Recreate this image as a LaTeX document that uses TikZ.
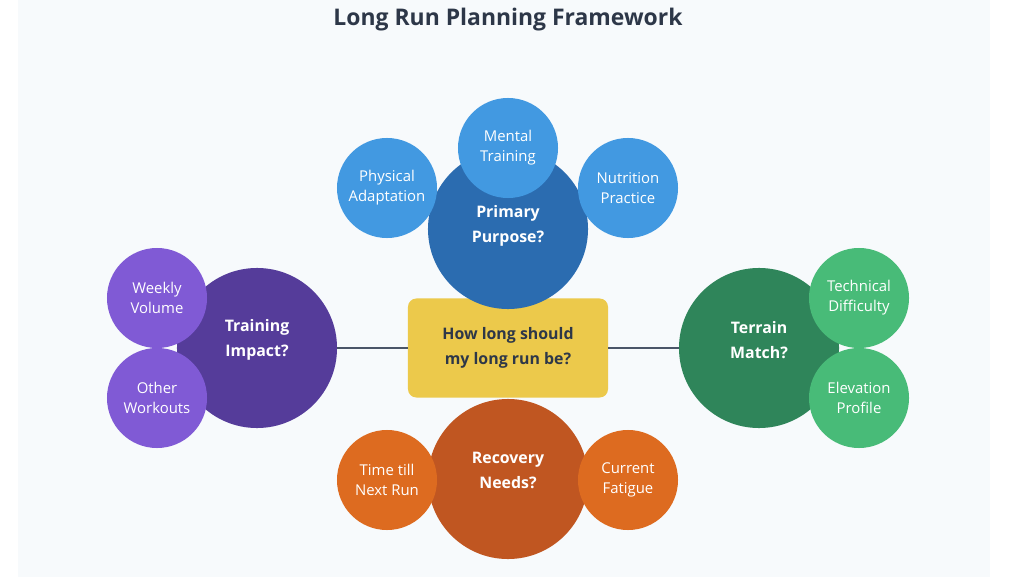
\documentclass[tikz,border=0pt]{standalone}
\usepackage{fontspec}
\setmainfont{Open Sans}
\usetikzlibrary{positioning}

\definecolor{panel}{HTML}{F7FAFC}
\definecolor{titlegray}{HTML}{2D3748}
\definecolor{linkgray}{HTML}{4A5568}
\definecolor{qyellow}{HTML}{ECC94B}
\definecolor{blueDark}{HTML}{2B6CB0}
\definecolor{blueLight}{HTML}{4299E1}
\definecolor{purpleDark}{HTML}{553C9A}
\definecolor{purpleLight}{HTML}{805AD5}
\definecolor{greenDark}{HTML}{2F855A}
\definecolor{greenLight}{HTML}{48BB78}
\definecolor{orangeDark}{HTML}{C05621}
\definecolor{orangeLight}{HTML}{DD6B20}

\begin{document}
\begin{tikzpicture}[x=0.025cm,y=-0.025cm,
  bigcirc/.style={circle,inner sep=0pt,minimum size=4cm,text=white,align=center,
    font=\bfseries\fontsize{11.3}{17.7}\selectfont},
  smallcirc/.style={circle,inner sep=0pt,minimum size=2.5cm,text=white,align=center,
    font=\fontsize{10.6}{14.2}\selectfont},
  question/.style={rectangle,rounded corners=6pt,fill=qyellow,minimum width=5cm,
    minimum height=2.475cm,align=center,text=titlegray,
    font=\bfseries\fontsize{11.3}{17.7}\selectfont},
  link/.style={draw=linkgray,line width=1.5pt}]
\def\midY{348}
\def\topY{229}
\def\botY{479}
% page and panel
\useasboundingbox[fill=white] (0,0) rectangle (1024,577);
\fill[panel] (18,0) rectangle (990,577);
\node[text=titlegray,font=\bfseries\fontsize{16.3}{19}\selectfont] (title) at (508,20) {Long Run Planning Framework};

% centre question
\node[question] (howlong) at (508,\midY) {How long should\\my long run be?};

% big circles
\path
(508,\topY) node[bigcirc,fill=blueDark] (purpose) {}
(257,\midY) node[bigcirc,fill=purpleDark] (impact) {}
(759,\midY) node[bigcirc,fill=greenDark] (terrain) {}
(508,\botY) node[bigcirc,fill=orangeDark] (recovery) {}
;
\draw[link] (impact) -- (howlong);
\draw[link] (howlong) -- (terrain);

% small circles
\path
(387,188) node[smallcirc,fill=blueLight] (physical) {Physical\\Adaptation}
(508,148) node[smallcirc,fill=blueLight] (mental) {Mental\\Training}
(628,188) node[smallcirc,fill=blueLight] (nutrition) {Nutrition\\Practice}
(157,298) node[smallcirc,fill=purpleLight] (weekly) {Weekly\\Volume}
(157,398) node[smallcirc,fill=purpleLight] (other) {Other\\Workouts}
(859,298) node[smallcirc,fill=greenLight] (technical) {Technical\\Difficulty}
(859,398) node[smallcirc,fill=greenLight] (elevation) {Elevation\\Profile}
(387,480) node[smallcirc,fill=orangeLight] (timetill) {Time till\\Next Run}
(628,480) node[smallcirc,fill=orangeLight] (fatigue) {Current\\Fatigue}
;

% labels of the big circles
\path
(508,226) node[bigcirc,minimum size=0pt] (purposetxt) {Primary\\Purpose?}
(257,340) node[bigcirc,minimum size=0pt] (impacttxt) {Training\\Impact?}
(759,340) node[bigcirc,minimum size=0pt] (terraintxt) {Terrain\\Match?}
(508,470) node[bigcirc,minimum size=0pt] (recoverytxt) {Recovery\\Needs?}
;
\end{tikzpicture}
\end{document}
